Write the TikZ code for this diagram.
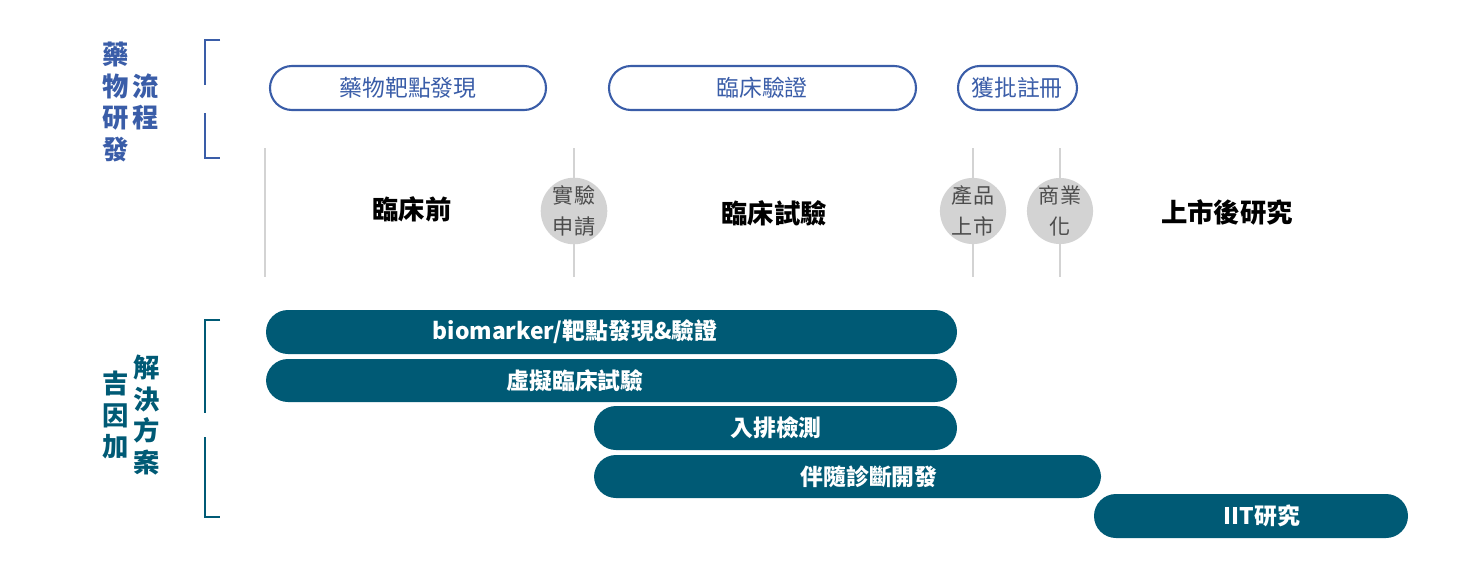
\documentclass[tikz,border=0pt]{standalone}
\usepackage{fontspec}
\setmainfont{Noto Sans CJK TC}
\usetikzlibrary{positioning}
\definecolor{flowblue}{HTML}{3A5DA8}
\definecolor{solteal}{HTML}{005A75}
\definecolor{stagegrey}{HTML}{D3D3D3}
\tikzset{
  pill/.style={draw=flowblue, line width=1.2pt, rounded corners=22\pxu, text=flowblue, font=\fontsize{13}{15}\selectfont},
  bar/.style={fill=solteal, rounded corners=22\pxu},
  bartext/.style={text=white, font=\bfseries\fontsize{13}{15}\selectfont},
  milestone/.style={circle, fill=stagegrey, minimum size=66\pxu, inner sep=0pt, align=center, text=black!70, font=\fontsize{12}{18}\selectfont},
  stage/.style={font=\bfseries\fontsize{15}{18}\selectfont},
  sidelabel/.style={align=center, font=\bfseries\fontsize{15}{18}\selectfont},
}
\newcommand{\pxu}{*0.02cm}
\begin{document}
\begin{tikzpicture}[x=0.02cm, y=-0.02cm]
    \useasboundingbox (0,0) rectangle (1471,578);

    % drug development brackets
    \draw[flowblue, line width=1.5pt] (220,40) -- (205,40) -- (205,85);
    \draw[flowblue, line width=1.5pt] (205,113) -- (205,158) -- (220,158);
    \node[sidelabel, text=flowblue] (drugA) at (116,102) {藥\\物\\研\\發};
    \node[sidelabel, text=flowblue] (drugB) at (146,102) {流\\程};

    % phase pills
    \draw[pill] (270,66) rectangle (546,110);
    \node[pill, draw=none] (discover) at (408,88) {藥物靶點發現};
    \draw[pill] (609,66) rectangle (916,110);
    \node[pill, draw=none] (verify) at (762,88) {臨床驗證};
    \draw[pill] (958,66) rectangle (1077,110);
    \node[pill, draw=none] (approve) at (1017,88) {獲批註冊};

    % timeline dividers
    \foreach \x in {265,574,973,1060}
        \draw[stagegrey, line width=0.8pt] (\x,148) -- (\x,277);

    \node[milestone] (ind) at (574,211) {實驗\\申請};
    \node[milestone] (launch) at (973,211) {產品\\上市};
    \node[milestone] (commerce) at (1060,211) {商業\\化};

    \node[stage] (preclin) at (412,209) {臨床前};
    \node[stage] (clin) at (774,213) {臨床試驗};
    \node[stage] (post) at (1227,212) {上市後研究};

    % solution brackets
    \draw[solteal, line width=1.5pt] (220,320) -- (205,320) -- (205,413);
    \draw[solteal, line width=1.5pt] (205,437) -- (205,517) -- (220,517);
    \node[sidelabel, text=solteal] (solA) at (116,415) {吉\\因\\加};
    \node[sidelabel, text=solteal] (solB) at (147,415) {解\\決\\方\\案};

    % solution bars
    \fill[bar] (266,310) rectangle (957,354);
    \node[bartext] (biomarker) at (575,332) {biomarker/靶點發現\&驗證};
    \fill[bar] (266,359) rectangle (957,402);
    \node[bartext] (virtual) at (575,381) {虛擬臨床試驗};
    \fill[bar] (594,406) rectangle (957,450);
    \node[bartext] (screen) at (776,428) {入排檢測};
    \fill[bar] (594,455) rectangle (1101,498);
    \node[bartext] (cdx) at (869,477) {伴隨診斷開發};
    \fill[bar] (1094,494) rectangle (1408,538);
    \node[bartext] (iit) at (1262,516) {IIT研究};
\end{tikzpicture}
\end{document}
